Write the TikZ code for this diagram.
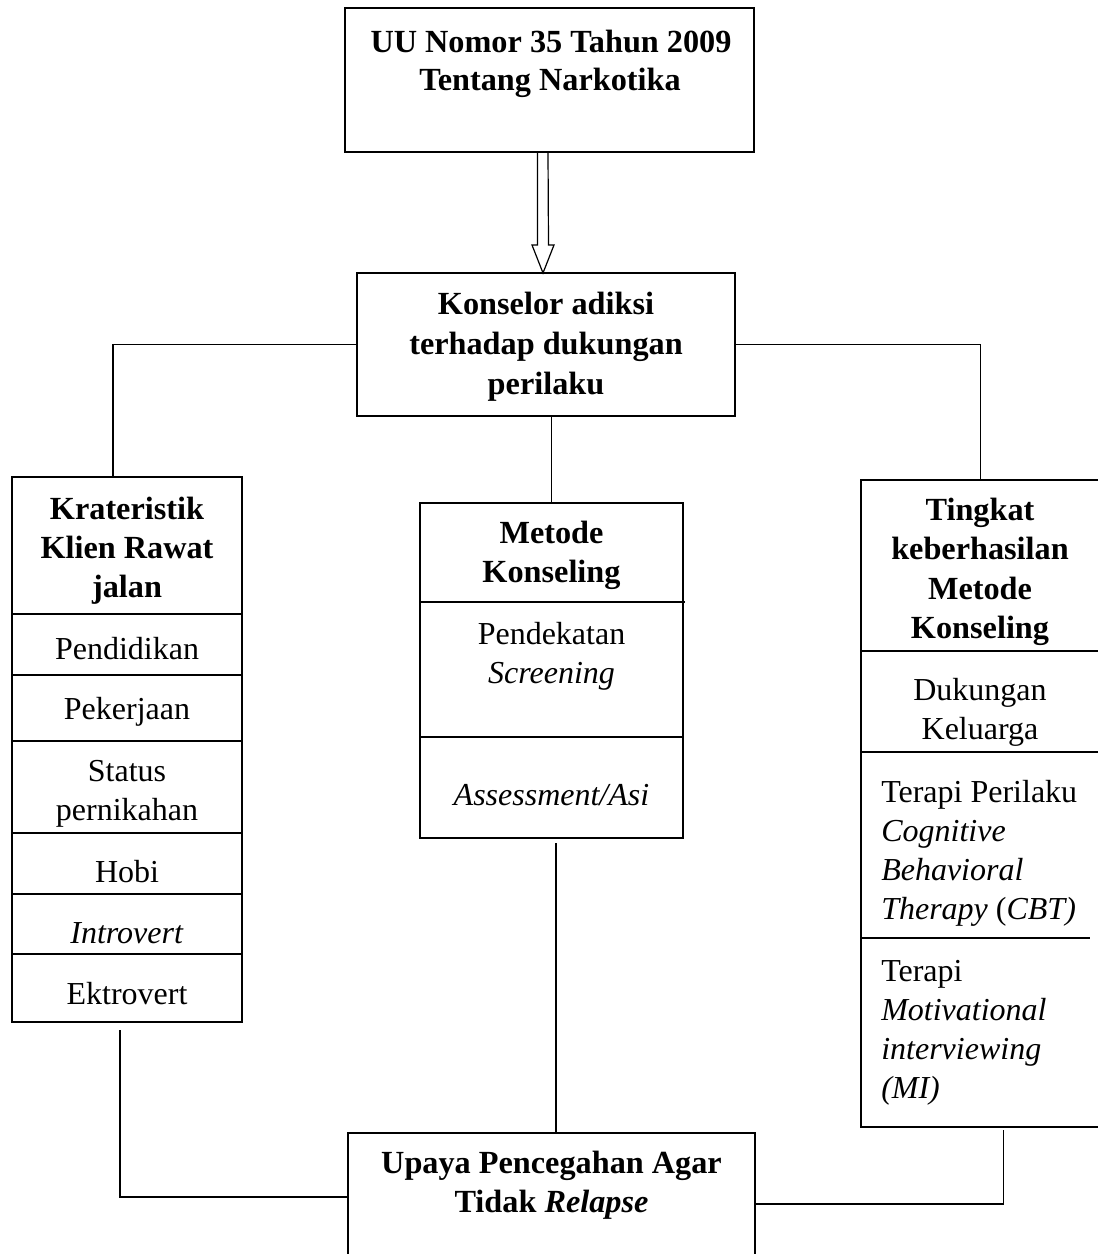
\documentclass[tikz,border=0pt]{standalone}
\usepackage{fontspec}
\setmainfont{Liberation Serif}
\usetikzlibrary{fit,calc}
\begin{document}
\begin{tikzpicture}[x=0.75pt,y=-0.75pt,
  frame/.style={draw,line width=1.3pt,inner sep=0pt,outer sep=0pt},
  div/.style={line width=0.9pt},
  conn/.style={line width=0.9pt},
  t/.style={anchor=base,inner sep=0pt,font=\fontsize{24}{29}\selectfont},
  tl/.style={t,anchor=base west},
  tb/.style={anchor=base,inner sep=0pt,font=\fontsize{24.2}{29}\selectfont\bfseries}]
\useasboundingbox (0,0) rectangle (1098,1254);
\clip (0,0) rectangle (1098,1254);

% boxes
\node[frame,fit={(345,8)(754,152)}] (T) {};
\node[frame,fit={(357,273)(735,416)}] (M) {};
\node[frame,fit={(12,477)(242,1022)}] (L) {};
\node[frame,fit={(420,503)(683,838)}] (K) {};
\node[frame,fit={(861,480)(1100,1127)}] (R) {};
\node[frame,fit={(348,1133)(755,1258)}] (U) {};

% top box
\node[tb] at (551,52) {UU Nomor 35 Tahun 2009};
\node[tb] at (550,90) {Tentang Narkotika};

% double arrow
\draw[conn,line join=miter]
  ($(T.south)+(-12,0)$) -- ($(M.north)+(-8.5,-28)$) -- ($(M.north)+(-14,-28)$)
  -- ($(M.north)+(-3,0)$) -- ($(M.north)+(8,-28)$) -- ($(M.north)+(2.5,-28)$)
  -- ($(T.south)+(-1.5,0)$);

% middle box
\node[tb] at (546,314) {Konselor adiksi};
\node[tb] at (546,354) {terhadap dukungan};
\node[tb] at (546,394) {perilaku};

% left box
\node[tb] at (127,519) {Krateristik};
\node[tb] at (127,558) {Klien Rawat};
\node[tb] at (127,597) {jalan};
\draw[div] (12,614) -- (242,614);
\node[t] at (127,659) {Pendidikan};
\draw[div] (12,675) -- (242,675);
\node[t] at (127,719) {Pekerjaan};
\draw[div] (12,741) -- (242,741);
\node[t] at (127,781) {Status};
\node[t] at (127,820) {pernikahan};
\draw[div] (12,833) -- (242,833);
\node[t] at (127,882) {Hobi};
\draw[div] (12,894) -- (242,894);
\node[t] at (127,943) {\textit{Introvert}};
\draw[div] (12,954) -- (242,954);
\node[t] at (127,1004) {Ektrovert};

% center column box
\node[tb] at (551.5,543) {Metode};
\node[tb] at (551.5,582) {Konseling};
\draw[div] (420,602) -- (685,602);
\node[t] at (551.5,644) {Pendekatan};
\node[t] at (551.5,683) {\textit{Screening}};
\draw[div] (420,737) -- (683,737);
\node[t] at (551.5,805) {\textit{Assessment/Asi}};

% right box
\node[tb] at (980,520) {Tingkat};
\node[tb] at (980,559) {keberhasilan};
\node[tb] at (980,599) {Metode};
\node[tb] at (980,638) {Konseling};
\draw[div] (861,651) -- (1098,651);
\node[t] at (980,700) {Dukungan};
\node[t] at (980,739) {Keluarga};
\draw[div] (861,752) -- (1098,752);
\node[tl] at (881,802) {Terapi Perilaku};
\node[tl] at (881,841) {\textit{Cognitive}};
\node[tl] at (881,880) {\textit{Behavioral}};
\node[tl] at (881,919) {\textit{Therapy} (\textit{CBT)}};
\draw[div] (861,938) -- (1090,938);
\node[tl] at (881,981) {Terapi};
\node[tl] at (881,1020) {\textit{Motivational}};
\node[tl] at (881,1059) {\textit{interviewing}};
\node[tl] at (881,1098) {\textit{(MI)}};

% bottom box
\node[tb] at (551.5,1173) {Upaya Pencegahan Agar};
\node[tb] at (551.5,1212) {Tidak \textit{Relapse}};

% connectors
\draw[conn] (M.west) -| ($(L.north)+(-14,0)$);
\draw[conn] (M.east) -| (R.north);
\draw[conn] (K.north |- M.south) -- (K.north);
\draw[conn] ($(K.south)+(4.5,5)$) -- ($(U.north)+(4.5,0)$);
\draw[conn] ($(L.south)+(-7,8)$) |- ($(U.west)+(0,1.5)$);
\draw[conn] ($(R.south)+(23,3)$) |- ($(U.east)+(0,8.5)$);
\end{tikzpicture}
\end{document}
